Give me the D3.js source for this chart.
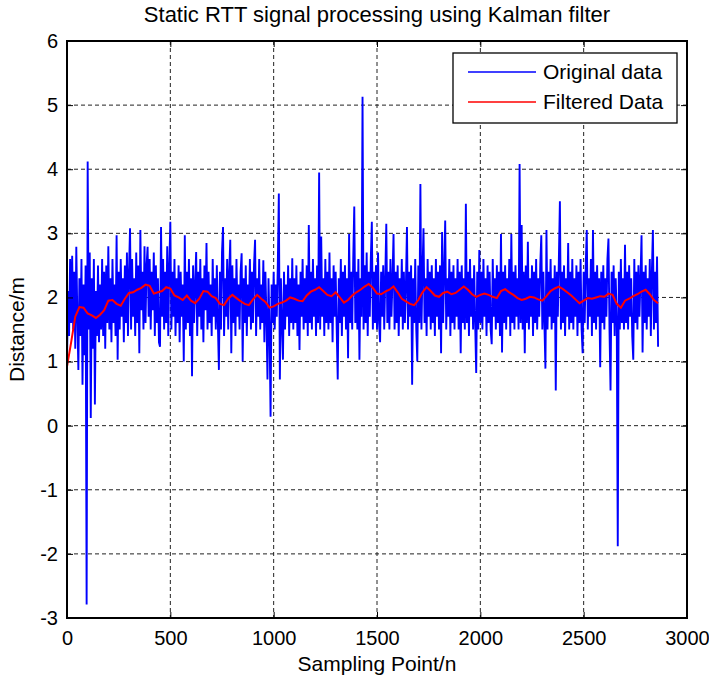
<!DOCTYPE html>
<html>
<head>
<meta charset="utf-8">
<script src="https://cdn.jsdelivr.net/npm/d3@7"></script>
<style>
  body { margin: 0; background: #fff; }
  text { font-family: "Liberation Sans", Arial, sans-serif; fill: #000; }
</style>
</head>
<body>
<div id="chart"></div>
<script>
// sample spacing of the arrays below
const origStep = 5;
const filtStep = 20;

// Original data, one value every 5 sampling points
const originalData = [
  1.0, 2.1, 1.4, 2.6, 1.6, 2.65, 1.5, 2.4, 1.2, 2.79, 1.7, 0.87, 2.3, 1.4, 2.6, 0.64, 2.2, 1.1, 2.5, -2.79,
  4.12, 1.5, 2.7, 0.12, 2.3, 1.2, 2.6, 0.33, 2.1, 1.4, 2.5, 1.3, 2.2, 1.5, 2.6, 1.4, 2.4, 1.2, 2.5, 1.6,
  2.8, 1.5, 2.3, 1.3, 2.6, 1.6, 2.2, 1.4, 2.97, 1.03, 2.4, 1.5, 2.6, 1.7, 2.3, 1.3, 2.5, 1.6, 2.7, 1.4,
  2.4, 3.08, 1.5, 2.6, 1.7, 2.3, 1.4, 2.7, 1.6, 2.5, 1.13, 3.05, 1.8, 2.4, 1.5, 2.8, 1.6, 2.5, 2.79, 1.7,
  2.6, 1.5, 2.4, 1.8, 2.7, 1.4, 2.5, 1.6, 2.3, 1.3, 1.23, 3.1, 1.7, 2.6, 1.5, 2.4, 1.6, 2.8, 1.4, 2.5,
  3.18, 1.5, 2.4, 1.7, 2.6, 1.4, 2.3, 1.6, 2.5, 1.3, 2.4, 1.7, 2.2, 1.0, 2.97, 1.5, 2.4, 1.6, 2.6, 1.4,
  2.3, 0.77, 2.5, 1.6, 2.2, 2.71, 1.4, 2.4, 1.7, 2.6, 1.5, 2.3, 1.3, 2.5, 1.8, 2.85, 1.5, 2.4, 1.6, 2.2,
  1.4, 2.6, 1.7, 2.3, 1.5, 2.5, 1.6, 0.87, 2.4, 1.5, 2.7, 3.1, 1.4, 2.3, 1.7, 2.6, 1.5, 2.4, 2.9, 1.13,
  2.5, 1.6, 2.3, 1.4, 2.6, 1.7, 2.2, 1.5, 2.4, 2.69, 1.0, 2.3, 1.6, 2.5, 1.4, 2.2, 1.7, 2.6, 1.5, 2.4,
  1.6, 2.5, 2.9, 1.4, 2.3, 1.7, 2.6, 1.5, 2.2, 1.6, 2.58, 1.3, 2.4, 1.7, 0.72, 2.3, 1.5, 0.14, 2.2, 1.6,
  2.4, 1.5, 2.2, 1.7, 2.5, 3.62, 0.72, 2.3, 1.6, 1.03, 2.4, 1.5, 2.2, 1.7, 2.5, 1.4, 2.3, 1.6, 2.61, 1.5,
  2.3, 1.6, 2.5, 1.4, 2.2, 1.18, 2.4, 1.7, 2.6, 1.5, 2.3, 1.6, 2.5, 1.4, 3.13, 1.6, 2.4, 1.5, 2.6, 1.7,
  2.3, 1.4, 2.5, 1.6, 3.95, 1.5, 2.95, 1.7, 2.3, 1.4, 2.6, 1.6, 2.4, 1.5, 2.7, 1.6, 2.3, 1.3, 2.5, 1.7,
  2.4, 1.5, 0.72, 2.3, 1.6, 2.6, 1.4, 2.4, 1.7, 2.5, 1.5, 2.3, 1.05, 2.99, 1.6, 2.4, 1.5, 2.6, 3.42, 1.6,
  2.4, 1.5, 2.6, 1.03, 2.3, 1.7, 5.13, 1.5, 2.5, 1.6, 2.7, 1.4, 2.4, 1.7, 2.6, 3.18, 1.5, 2.4, 1.6, 2.5,
  1.5, 2.7, 1.6, 1.3, 2.4, 1.7, 2.5, 1.5, 2.3, 3.15, 1.6, 2.4, 1.5, 2.6, 1.7, 2.3, 2.99, 1.5, 2.4, 1.6,
  2.5, 1.4, 2.3, 1.7, 2.6, 1.5, 2.4, 1.6, 2.2, 3.1, 1.5, 2.4, 1.7, 2.5, 0.64, 2.3, 1.6, 2.6, 1.5, 1.0,
  2.5, 1.6, 3.77, 1.5, 2.4, 3.08, 1.6, 2.3, 1.4, 2.6, 1.7, 2.4, 1.5, 2.5, 1.6, 2.3, 1.4, 2.6, 1.7, 2.4,
  1.5, 2.5, 1.13, 3.02, 1.6, 2.4, 3.2, 1.5, 2.3, 1.7, 2.6, 1.4, 2.4, 1.6, 2.5, 1.5, 2.3, 1.7, 2.6, 1.5,
  2.4, 1.13, 2.5, 1.6, 2.3, 1.5, 3.46, 1.6, 2.4, 1.4, 2.6, 1.7, 2.3, 1.5, 2.5, 1.6, 0.82, 2.4, 1.5, 2.74,
  1.6, 2.4, 1.5, 2.6, 1.7, 2.3, 1.4, 2.5, 1.6, 2.4, 1.5, 1.27, 2.6, 1.7, 2.3, 1.5, 2.5, 1.6, 2.4, 1.4,
  2.99, 1.14, 2.4, 1.6, 2.5, 1.5, 2.3, 1.7, 2.6, 1.4, 2.99, 1.6, 2.4, 1.5, 2.5, 1.7, 2.3, 1.5, 4.08, 1.6,
  3.13, 1.5, 2.4, 1.13, 2.5, 1.6, 2.87, 1.5, 2.3, 1.7, 2.5, 1.4, 2.4, 1.6, 2.6, 1.5, 2.3, 1.7, 2.5, 2.97,
  1.5, 2.4, 1.6, 0.89, 3.05, 1.5, 2.4, 1.7, 2.6, 1.5, 2.3, 1.6, 2.5, 0.55, 2.4, 1.7, 2.6, 3.5, 1.5, 2.4,
  1.6, 2.5, 1.4, 2.3, 1.7, 2.85, 1.5, 2.4, 1.6, 2.6, 1.5, 2.3, 1.7, 2.5, 1.4, 2.4, 1.6, 2.6, 1.5, 1.13,
  2.4, 1.6, 2.5, 3.05, 1.5, 2.3, 1.7, 2.6, 1.4, 3.05, 1.6, 2.4, 1.5, 2.5, 1.7, 2.3, 0.91, 2.4, 1.6, 2.5,
  1.5, 2.3, 1.7, 2.6, 2.92, 1.5, 0.55, 2.4, 1.6, 2.5, 1.4, 2.3, 1.7, -1.88, 2.4, 1.5, 2.6, 1.6, 2.3, 1.5,
  2.82, 1.6, 2.4, 1.5, 2.5, 1.7, 2.3, 1.4, 1.03, 2.6, 1.6, 2.4, 1.5, 2.5, 1.7, 2.3, 2.97, 1.14, 2.4, 1.6,
  2.5, 1.5, 2.3, 1.7, 2.6, 1.4, 2.4, 3.05, 1.5, 2.4, 1.6, 2.64, 1.23
];

// Kalman filtered data, one value every 20 sampling points
const filteredData = [
  0.92, 1.30, 1.70, 1.85, 1.84, 1.75, 1.72, 1.68, 1.73, 1.80,
  1.95, 1.96, 1.90, 1.87, 1.98, 2.07, 2.08, 2.12, 2.15, 2.20,
  2.18, 2.06, 2.08, 2.10, 2.16, 2.14, 2.03, 2.00, 1.96, 2.03,
  1.95, 1.91, 1.98, 2.10, 2.09, 2.02, 1.99, 1.90, 1.88, 1.98,
  2.04, 1.99, 1.94, 1.90, 1.88, 1.97, 2.04, 1.98, 1.93, 1.84,
  1.86, 1.90, 1.92, 1.95, 2.00, 1.98, 1.95, 1.94, 2.03, 2.09,
  2.12, 2.16, 2.10, 2.04, 2.02, 2.08, 2.00, 1.92, 1.96, 2.03,
  2.08, 2.12, 2.17, 2.21, 2.15, 2.06, 2.05, 2.09, 2.12, 2.17,
  2.08, 1.98, 1.94, 1.90, 1.88, 1.96, 2.08, 2.16, 2.10, 2.03,
  2.01, 2.07, 2.09, 2.05, 2.07, 2.12, 2.17, 2.12, 2.05, 2.01,
  2.04, 2.06, 2.04, 2.01, 1.99, 2.10, 2.13, 2.08, 2.04, 1.99,
  1.96, 1.98, 2.01, 2.00, 1.97, 1.95, 2.02, 2.10, 2.14, 2.17,
  2.13, 2.08, 2.03, 1.97, 1.91, 1.95, 1.99, 1.98, 2.00, 2.02,
  2.01, 2.06, 2.04, 1.90, 1.84, 1.95, 1.98, 2.02, 2.05, 2.09,
  2.12, 2.05, 1.96, 1.91
];

const xTicks = [0, 500, 1000, 1500, 2000, 2500, 3000];
const yTicks = [-3, -2, -1, 0, 1, 2, 3, 4, 5, 6];
const legendLabels = ["Original data", "Filtered Data"];
const seriesColors = ["#0000ff", "#ff0000"];

const width = 709;
const height = 679;
const margin = { top: 41, right: 22, bottom: 61, left: 67 };
const innerW = width - margin.left - margin.right;
const innerH = height - margin.top - margin.bottom;

const svg = d3.select("#chart")
  .append("svg")
  .attr("width", width)
  .attr("height", height);

const g = svg.append("g")
  .attr("transform", `translate(${margin.left},${margin.top})`);

const x = d3.scaleLinear().domain([0, 3000]).range([0, innerW]);
const y = d3.scaleLinear().domain([-3, 6]).range([innerH, 0]);

// grid
g.selectAll(".vgrid")
  .data(xTicks.slice(1, -1))
  .enter()
  .append("line")
  .attr("x1", d => x(d)).attr("x2", d => x(d))
  .attr("y1", 0).attr("y2", innerH)
  .attr("stroke", "#222")
  .attr("stroke-width", 1)
  .attr("stroke-dasharray", "4,3");

g.selectAll(".hgrid")
  .data(yTicks.slice(1, -1))
  .enter()
  .append("line")
  .attr("x1", 0).attr("x2", innerW)
  .attr("y1", d => y(d)).attr("y2", d => y(d))
  .attr("stroke", "#222")
  .attr("stroke-width", 1)
  .attr("stroke-dasharray", "4,3");

// lines
const clip = svg.append("defs").append("clipPath").attr("id", "clip");
clip.append("rect").attr("width", innerW).attr("height", innerH);

const origLine = d3.line()
  .x((d, i) => x(i * origStep))
  .y(d => y(d));

const filtLine = d3.line()
  .x((d, i) => x(i * filtStep))
  .y(d => y(d));

g.append("path")
  .datum(originalData)
  .attr("clip-path", "url(#clip)")
  .attr("fill", "none")
  .attr("stroke", seriesColors[0])
  .attr("stroke-width", 1.9)
  .attr("d", origLine);

g.append("path")
  .datum(filteredData)
  .attr("clip-path", "url(#clip)")
  .attr("fill", "none")
  .attr("stroke", seriesColors[1])
  .attr("stroke-width", 2)
  .attr("d", filtLine);

// axes, ticks pointing inwards on all four sides
const tickLen = 6;
const fmt = d => String(d);
g.append("g")
  .attr("transform", `translate(0,${innerH})`)
  .call(d3.axisBottom(x).tickValues(xTicks).tickSize(-tickLen).tickPadding(13).tickFormat(fmt));
g.append("g")
  .call(d3.axisTop(x).tickValues(xTicks).tickSize(-tickLen).tickFormat(""));
g.append("g")
  .call(d3.axisLeft(y).tickValues(yTicks).tickSize(-tickLen).tickPadding(9).tickFormat(fmt));
g.append("g")
  .attr("transform", `translate(${innerW},0)`)
  .call(d3.axisRight(y).tickValues(yTicks).tickSize(-tickLen).tickFormat(""));

g.selectAll(".domain").remove();
g.selectAll(".tick line").attr("stroke", "#000").attr("stroke-width", 1);
g.selectAll(".tick text").attr("font-size", 20).attr("font-family", "Liberation Sans, Arial, sans-serif");

g.append("rect")
  .attr("width", innerW)
  .attr("height", innerH)
  .attr("fill", "none")
  .attr("stroke", "#000")
  .attr("stroke-width", 2);

// title and labels
svg.append("text")
  .attr("x", margin.left + innerW / 2)
  .attr("y", 22)
  .attr("text-anchor", "middle")
  .attr("font-size", 22)
  .text("Static RTT signal processing using Kalman filter");

svg.append("text")
  .attr("x", margin.left + innerW / 2)
  .attr("y", 671)
  .attr("text-anchor", "middle")
  .attr("font-size", 21)
  .text("Sampling Point/n");

svg.append("text")
  .attr("transform", `translate(24,${margin.top + innerH / 2}) rotate(-90)`)
  .attr("text-anchor", "middle")
  .attr("font-size", 21)
  .text("Distance/m");

// legend
const legend = svg.append("g").attr("transform", "translate(453,53)");
legend.append("rect")
  .attr("width", 224)
  .attr("height", 70)
  .attr("fill", "#fff")
  .attr("stroke", "#000")
  .attr("stroke-width", 1.3);

legendLabels.forEach((label, i) => {
  const ly = 19 + i * 30;
  legend.append("line")
    .attr("x1", 15).attr("x2", 83)
    .attr("y1", ly).attr("y2", ly)
    .attr("stroke", seriesColors[i])
    .attr("stroke-width", 1.5);
  legend.append("text")
    .attr("x", 90)
    .attr("y", ly + 7)
    .attr("font-size", 21)
    .text(label);
});
</script>
</body>
</html>
